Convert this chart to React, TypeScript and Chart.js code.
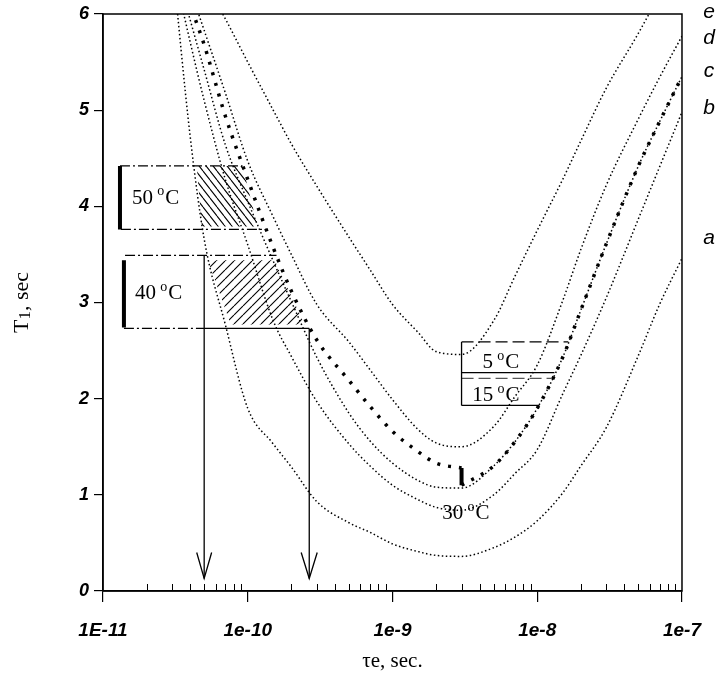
import React, { useEffect, useRef } from 'react';
import { Chart, registerables } from 'chart.js';
Chart.register(...registerables);

// ---- data ----
const tau = [3e-11, 4e-11, 5e-11, 7e-11, 1e-10, 1.5e-10, 2e-10, 3e-10, 5e-10, 7e-10, 1e-9, 1.5e-9, 2e-9, 3e-9, 5e-9, 7e-9, 1e-8, 1.5e-8, 2e-8, 3e-8, 5e-8, 7e-8, 1e-7];
const curveA = [6.58, 4.73, 3.66, 2.77, 1.9, 1.53, 1.29, 0.93, 0.71, 0.61, 0.49, 0.41, 0.37, 0.36, 0.45, 0.56, 0.73, 1.02, 1.3, 1.7, 2.45, 2.98, 3.46];
const curveB = [6.54, 5.71, 5.1, 4.28, 3.6, 2.81, 2.44, 1.97, 1.53, 1.3, 1.1, 0.95, 0.87, 0.84, 1.0, 1.22, 1.47, 2.05, 2.45, 3.05, 3.87, 4.41, 4.98];
const curveC = [6.62, 5.94, 5.42, 4.64, 4.05, 3.43, 3.01, 2.43, 1.85, 1.56, 1.33, 1.15, 1.08, 1.07, 1.3, 1.55, 1.9, 2.43, 2.92, 3.61, 4.42, 4.88, 5.35];
const curveD = [6.82, 6.26, 5.83, 5.18, 4.47, 3.89, 3.5, 2.98, 2.59, 2.3, 1.99, 1.68, 1.54, 1.5, 1.71, 2.02, 2.35, 3.02, 3.55, 4.22, 4.91, 5.34, 5.77];
const curveE = [6.99, 6.63, 6.35, 5.95, 5.5, 5.0, 4.65, 4.21, 3.68, 3.34, 2.98, 2.69, 2.49, 2.46, 2.81, 3.27, 3.75, 4.28, 4.68, 5.23, 5.8, 6.2, 6.6];

const tau30Left = [3e-11, 4e-11, 5e-11, 7e-11, 1e-10, 1.5e-10, 2e-10, 3e-10, 5e-10, 7e-10, 1e-9, 1.5e-9, 2e-9, 3e-9];
const t30Left = [6.7, 6.1, 5.68, 4.94, 4.28, 3.57, 3.12, 2.61, 2.19, 1.92, 1.66, 1.45, 1.33, 1.28];
const tau30Right = [3e-9, 5e-9, 7e-9, 1e-8, 1.5e-8, 2e-8, 3e-8, 5e-8, 7e-8, 1e-7];
const t30Right = [1.1, 1.3, 1.55, 1.9, 2.43, 2.92, 3.61, 4.42, 4.88, 5.35];
const bar30 = [[3e-9, 1.28], [3e-9, 1.1]];

const box50Top = [[1.31e-11, 4.42], [9.2e-11, 4.42]];
const box50Bottom = [[1.33e-11, 3.76], [1.35e-10, 3.76]];
const box50Bar = [[1.31e-11, 4.42], [1.31e-11, 3.76]];
const hatch50 = [[4.44e-11, 4.42], [9.2e-11, 4.42], [1.17e-10, 3.79], [4.82e-11, 3.79], [4.44e-11, 4.42]];

const box40Top = [[1.42e-11, 3.49], [1.58e-10, 3.49]];
const box40Bar = [[1.395e-11, 3.44], [1.395e-11, 2.74]];
const box40BottomDash = [[1.395e-11, 2.73], [5.0e-11, 2.73]];
const box40BottomSolid = [[5.0e-11, 2.73], [2.66e-10, 2.73]];
const hatch40 = [[5.3e-11, 3.44], [1.535e-10, 3.44], [2.47e-10, 2.77], [7.64e-11, 2.77], [5.3e-11, 3.44]];

const arrow1Shaft = [[5.0e-11, 3.49], [5.0e-11, 0.13]];
const arrow1Head = [[4.44e-11, 0.4], [5.0e-11, 0.13], [5.63e-11, 0.4]];
const arrow2Shaft = [[2.66e-10, 2.73], [2.66e-10, 0.13]];
const arrow2Head = [[2.34e-10, 0.4], [2.66e-10, 0.13], [3.02e-10, 0.4]];

const midLeft = [[3e-9, 2.59], [3e-9, 1.93]];
const mid5Top = [[3e-9, 2.59], [1.64e-8, 2.59]];
const mid5Bottom = [[3e-9, 2.27], [1.315e-8, 2.27]];
const mid15Top = [[3e-9, 2.21], [1.25e-8, 2.21]];
const mid15Bottom = [[3e-9, 1.93], [1.036e-8, 1.93]];

const xTickValues = [1e-11, 1e-10, 1e-9, 1e-8, 1e-7];
const xTickLabels = ['1E-11', '1e-10', '1e-9', '1e-8', '1e-7'];
const minorMultipliers = [2, 3, 4, 5, 6, 7, 8, 9];
const minorDecades = [1e-11, 1e-10, 1e-9, 1e-8];

const tempLabels = [
  { num: '50', x: 1.585e-11, y: 4.1 },
  { num: '40', x: 1.663e-11, y: 3.11 },
  { num: '5', x: 4.18e-9, y: 2.39 },
  { num: '15', x: 3.56e-9, y: 2.05 },
  { num: '30', x: 2.21e-9, y: 0.82 },
];
const curveLetters = [
  { t: 'e', y: 6.02 },
  { t: 'd', y: 5.75 },
  { t: 'c', y: 5.41 },
  { t: 'b', y: 5.02 },
  { t: 'a', y: 3.67 },
];

const SERIF = '"Liberation Serif", "Times New Roman", serif';
const SANS = '"Liberation Sans", Arial, sans-serif';

function zip(xs: number[], ys: number[]) {
  return xs.map((x, i) => ({ x, y: ys[i] }));
}
function pairs(p: number[][]) {
  return p.map(([x, y]) => ({ x, y }));
}

function makePattern(w: number, h: number, back: boolean) {
  const c = document.createElement('canvas');
  c.width = w;
  c.height = h;
  const g = c.getContext('2d')!;
  g.strokeStyle = '#000';
  g.lineWidth = 1.1;
  g.beginPath();
  for (const dx of [-w, 0, w]) {
    if (back) {
      g.moveTo(dx, 0);
      g.lineTo(dx + w, h);
    } else {
      g.moveTo(dx, h);
      g.lineTo(dx + w, 0);
    }
  }
  g.stroke();
  return g.createPattern(c, 'repeat');
}

function drawDeg(ctx: CanvasRenderingContext2D, px: number, py: number, num: string, size: number) {
  ctx.textAlign = 'left';
  ctx.textBaseline = 'alphabetic';
  const base = py + size * 0.34;
  ctx.font = `${size}px ${SERIF}`;
  const s = num + ' ';
  ctx.fillText(s, px, base);
  let w = ctx.measureText(s).width;
  ctx.font = `${Math.round(size * 0.66)}px ${SERIF}`;
  ctx.fillText('o', px + w - 1, base - size * 0.4);
  w += ctx.measureText('o').width;
  ctx.font = `${size}px ${SERIF}`;
  ctx.fillText('C', px + w, base);
}

const decor = {
  id: 'decor',
  afterDraw(chart: any) {
    const { ctx, chartArea: ca, scales } = chart;
    const x = scales.x;
    const y = scales.y;
    ctx.save();
    ctx.strokeStyle = '#000';
    ctx.lineWidth = 1.5;
    ctx.strokeRect(ca.left, ca.top, ca.right - ca.left, ca.bottom - ca.top);
    // minor ticks (inside)
    ctx.lineWidth = 1;
    ctx.beginPath();
    for (const d of minorDecades) {
      for (const m of minorMultipliers) {
        const px = Math.round(x.getPixelForValue(m * d)) + 0.5;
        ctx.moveTo(px, ca.bottom);
        ctx.lineTo(px, ca.bottom - 7);
      }
    }
    ctx.stroke();
    ctx.fillStyle = '#000';
    for (const l of tempLabels) {
      drawDeg(ctx, x.getPixelForValue(l.x), y.getPixelForValue(l.y), l.num, 21);
    }
    ctx.font = `italic 21px ${SANS}`;
    ctx.textAlign = 'center';
    ctx.textBaseline = 'middle';
    for (const l of curveLetters) {
      ctx.fillText(l.t, ca.right + 27, y.getPixelForValue(l.y));
    }
    // x title
    ctx.font = `21px ${SERIF}`;
    ctx.textAlign = 'center';
    ctx.textBaseline = 'middle';
    ctx.fillText('\u03c4e, sec.', (ca.left + ca.right) / 2, 661);
    // y title
    ctx.translate(22, (ca.top + ca.bottom) / 2);
    ctx.rotate(-Math.PI / 2);
    ctx.textAlign = 'left';
    ctx.textBaseline = 'middle';
    const big = `22px ${SERIF}`;
    const small = `17px ${SERIF}`;
    ctx.font = big;
    const wT = ctx.measureText('T').width;
    const wRest = ctx.measureText(', sec').width;
    ctx.font = small;
    const w1 = ctx.measureText('1').width;
    let sx = -(wT + w1 + wRest) / 2;
    ctx.font = big;
    ctx.fillText('T', sx, 0);
    sx += wT;
    ctx.font = small;
    ctx.fillText('1', sx, 4);
    sx += w1;
    ctx.font = big;
    ctx.fillText(', sec', sx, 0);
    ctx.restore();
  },
};

export default function App() {
  const ref = useRef<HTMLCanvasElement>(null);
  useEffect(() => {
    if (!ref.current) return;
    const thin = (ys: number[]) => ({
      data: zip(tau, ys),
      showLine: true,
      pointRadius: 0,
      borderColor: '#000',
      borderWidth: 1.5,
      borderDash: [1.5, 2.5],
      cubicInterpolationMode: 'monotone',
      fill: false,
      order: 1,
    });
    const seg = (p: number[][], extra: any = {}) => ({
      data: pairs(p),
      showLine: true,
      pointRadius: 0,
      borderColor: '#000',
      borderWidth: 1.3,
      fill: false,
      order: 0,
      ...extra,
    });
    const dashDot = { borderDash: [10, 3, 2, 3] };
    const p50 = makePattern(7, 9, true);
    const p40 = makePattern(9, 9, false);
    const chart = new Chart(ref.current, {
      type: 'scatter',
      data: {
        datasets: [
          thin(curveA),
          thin(curveB),
          thin(curveC),
          thin(curveD),
          thin(curveE),
          { ...thin(t30Left), data: zip(tau30Left, t30Left), borderWidth: 3.5, borderDash: [3, 8] },
          { ...thin(t30Right), data: zip(tau30Right, t30Right), borderWidth: 3.5, borderDash: [3, 8] },
          seg(bar30, { borderWidth: 4 }),
          seg(box50Top, dashDot),
          seg(box50Bottom, dashDot),
          seg(box50Bar, { borderWidth: 4 }),
          seg(box40Top, dashDot),
          seg(box40BottomDash, dashDot),
          seg(box40BottomSolid),
          seg(box40Bar, { borderWidth: 4 }),
          seg(arrow1Shaft),
          seg(arrow1Head),
          seg(arrow2Shaft),
          seg(arrow2Head),
          seg(midLeft),
          seg(mid5Top, { borderDash: [12, 5] }),
          seg(mid5Bottom),
          seg(mid15Top, { borderDash: [12, 5], borderColor: '#555' }),
          seg(mid15Bottom),
          seg(hatch50, { borderWidth: 0, fill: 'shape', backgroundColor: p50, order: 5 }),
          seg(hatch40, { borderWidth: 0, fill: 'shape', backgroundColor: p40, order: 5 }),
        ] as any,
      },
      options: {
        responsive: false,
        animation: false,
        events: [],
        layout: { padding: { left: 0, top: 9, right: 37, bottom: 0 } },
        plugins: { legend: { display: false }, tooltip: { enabled: false } },
        scales: {
          x: {
            type: 'logarithmic',
            min: 1e-11,
            max: 1e-7,
            afterBuildTicks: (s: any) => {
              s.ticks = xTickValues.map((v) => ({ value: v }));
            },
            afterFit: (s: any) => {
              s.height = 93;
            },
            ticks: {
              autoSkip: false,
              maxRotation: 0,
              minRotation: 0,
              padding: 19,
              color: '#000',
              font: { family: SANS, size: 19, style: 'italic', weight: 'bold', lineHeight: 1 },
              callback: (_v: any, i: number) => xTickLabels[i],
            },
            grid: { drawOnChartArea: false, drawTicks: true, tickLength: 11, color: '#000', lineWidth: 1.2 },
            border: { display: true, color: '#000', width: 1.5 },
          },
          y: {
            type: 'linear',
            min: 0,
            max: 6,
            afterFit: (s: any) => {
              s.width = 103;
            },
            ticks: {
              stepSize: 1,
              padding: 5,
              color: '#000',
              font: { family: SANS, size: 18, style: 'italic', weight: 'bold', lineHeight: 1 },
            },
            grid: { drawOnChartArea: false, drawTicks: true, tickLength: 9, color: '#000', lineWidth: 1.2 },
            border: { display: true, color: '#000', width: 1.5 },
          },
        },
      } as any,
      plugins: [decor],
    });
    return () => chart.destroy();
  }, []);
  return (
    <div style={{ position: 'fixed', left: 0, top: 0, width: 720, height: 684, background: '#fff' }}>
      <canvas ref={ref} width={720} height={684} style={{ display: 'block' }} />
    </div>
  );
}
